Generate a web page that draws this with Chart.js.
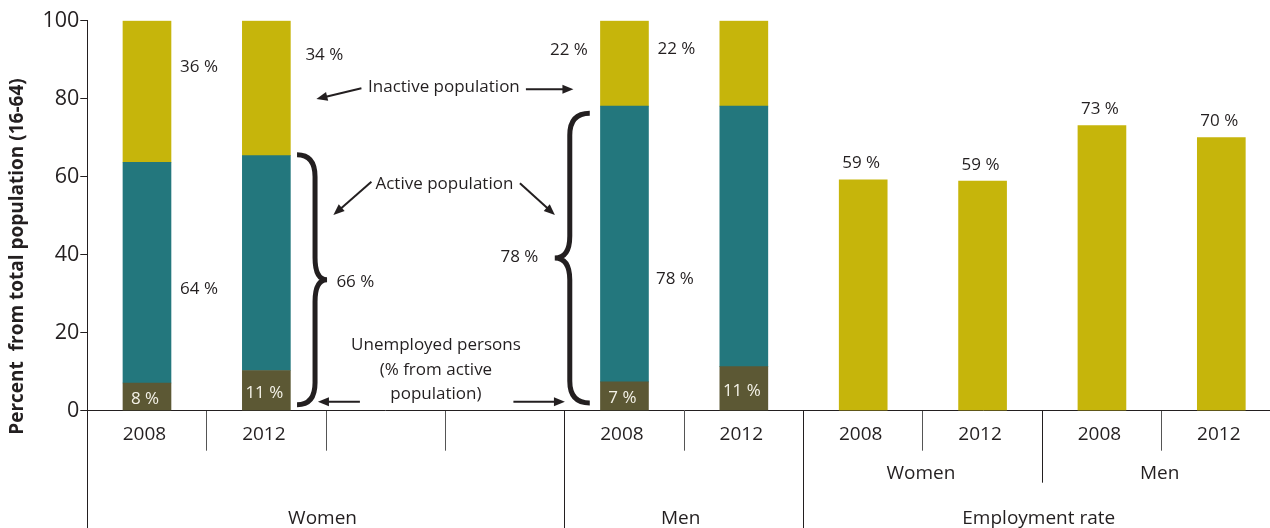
<!DOCTYPE html>
<html>
<head>
<meta charset="utf-8">
<script src="https://cdn.jsdelivr.net/npm/chart.js@4.4.1/dist/chart.umd.min.js"></script>
<style>
  html, body { margin: 0; padding: 0; background: #fff; overflow: hidden; }
  #wrap { width: 1281px; height: 528px; }
</style>
</head>
<body>
<div id="wrap"><canvas id="chart" width="1281" height="528"></canvas></div>
<script>
// Population by labour status (stacked) + employment rate, women / men, 2008 vs 2012

const yearLabels = ["2008", "2012", "", "", "2008", "2012", "2008", "2012", "2008", "2012"];
const unemployed = [7.1, 10.3, null, null, 7.4, 11.3, null, null, null, null];
const employed   = [56.6, 55.1, null, null, 70.7, 66.8, null, null, null, null];
const inactive   = [36.3, 34.6, null, null, 21.9, 21.9, null, null, null, null];
const employmentRate = [null, null, null, null, null, null, 59.2, 58.9, 73.1, 70.0];

const unemployedText = ["8 %", "11 %", "", "", "7 %", "11 %", "", "", "", ""];
const employmentText = ["", "", "", "", "", "", "59 %", "59 %", "73 %", "70 %"];
const sideText = ["36 %", "64 %", "34 %", "66 %", "22 %", "22 %", "78 %", "78 %"];
const calloutText = ["Inactive population", "Active population", "Unemployed persons", "(% from active", "population)"];
const subGroups = [{ label: "Women", from: 6, to: 8 }, { label: "Men", from: 8, to: 10 }];
const groups = [{ label: "Women", from: 0, to: 4 }, { label: "Men", from: 4, to: 6 }, { label: "Employment rate", from: 6, to: 10 }];
const yTitle = "Percent  from total population (16-64)";

const olive = "#c6b50b";
const teal = "#23777d";
const darkOlive = "#5c5834";
const ink = "#231f20";
const FONT = "'Open Sans', sans-serif";
const NOTE = 17;

const annotations = {
  id: "annotations",
  afterDraw(chart) {
    const { ctx, chartArea } = chart;
    const x = chart.scales.x, y = chart.scales.y;
    const px = i => x.getPixelForValue(i);
    const py = v => y.getPixelForValue(v);
    const edge = k => x.getPixelForValue(k - 0.5);
    const align = p => Math.round(p - 0.5) + 0.5;
    const bottom = chartArea.bottom;
    const H = chart.height;

    // text centred on its cap height
    function text(str, cx, cy, size, color, weight) {
      ctx.save();
      ctx.font = `${weight || "normal"} ${size}px ${FONT}`;
      ctx.fillStyle = color || ink;
      ctx.textAlign = "center";
      ctx.textBaseline = "alphabetic";
      ctx.fillText(str, cx, cy + size * 0.357);
      ctx.restore();
    }

    function arrow(x1, y1, x2, y2) {
      const a = Math.atan2(y2 - y1, x2 - x1), L = 11, W = 4.5;
      const c = Math.cos(a), s = Math.sin(a);
      ctx.save();
      ctx.strokeStyle = ink; ctx.fillStyle = ink; ctx.lineWidth = 2;
      ctx.beginPath();
      ctx.moveTo(x1, y1);
      ctx.lineTo(x2 - L * 0.8 * c, y2 - L * 0.8 * s);
      ctx.stroke();
      ctx.beginPath();
      ctx.moveTo(x2, y2);
      ctx.lineTo(x2 - L * c + W * s, y2 - L * s - W * c);
      ctx.lineTo(x2 - L * c - W * s, y2 - L * s + W * c);
      ctx.closePath();
      ctx.fill();
      ctx.restore();
    }

    function brace(xEnd, xSpine, xTip, yTop, yBot) {
      const yMid = (yTop + yBot) / 2, r = 22;
      ctx.save();
      ctx.strokeStyle = ink; ctx.lineWidth = 5;
      ctx.beginPath();
      ctx.moveTo(xEnd, yTop);
      ctx.quadraticCurveTo(xSpine, yTop, xSpine, yTop + r);
      ctx.lineTo(xSpine, yMid - r);
      ctx.quadraticCurveTo(xSpine, yMid, xTip, yMid);
      ctx.quadraticCurveTo(xSpine, yMid, xSpine, yMid + r);
      ctx.lineTo(xSpine, yBot - r);
      ctx.quadraticCurveTo(xSpine, yBot, xEnd, yBot);
      ctx.stroke();
      ctx.restore();
    }

    // y axis title
    ctx.save();
    ctx.translate(23, 256.5);
    ctx.rotate(-Math.PI / 2);
    ctx.font = `bold 19px ${FONT}`;
    ctx.fillStyle = ink;
    ctx.textAlign = "center";
    ctx.fillText(yTitle, 0, 0);
    ctx.restore();

    // category axis: year labels and group separators
    yearLabels.forEach((lab, i) => { if (lab) text(lab, px(i) - 2.5, bottom + 23, 19); });
    ctx.save();
    ctx.strokeStyle = ink; ctx.lineWidth = 1;
    [0, 4, 6].forEach(k => {
      ctx.beginPath(); ctx.moveTo(align(edge(k)), bottom); ctx.lineTo(align(edge(k)), H); ctx.stroke();
    });
    ctx.beginPath(); ctx.moveTo(align(edge(8)), bottom); ctx.lineTo(align(edge(8)), bottom + 72); ctx.stroke();
    ctx.restore();
    subGroups.forEach(g => text(g.label, (edge(g.from) + edge(g.to)) / 2 - 2, bottom + 61.5, 19));
    groups.forEach(g => text(g.label, (edge(g.from) + edge(g.to)) / 2 - 3.5, bottom + 107, 19));

    // labels inside / above bars
    unemployed.forEach((v, i) => { if (v != null) text(unemployedText[i], px(i) - 2, py(v / 2) + 1, NOTE, "#f4f2e8"); });
    employmentRate.forEach((v, i) => { if (v != null) text(employmentText[i], px(i) - 2, py(v) - 17.5, NOTE); });

    // side labels
    text(sideText[0], px(0) + 52, py(88.5), NOTE);
    text(sideText[1], px(0) + 52, py(31.5), NOTE);
    text(sideText[2], px(1) + 58, py(91.5), NOTE);
    text(sideText[3], px(1) + 89, py(33.3), NOTE);
    text(sideText[4], px(4) - 55.5, py(92.7), NOTE);
    text(sideText[5], px(4) + 52, py(92.9), NOTE);
    text(sideText[6], px(4) + 50.5, py(34), NOTE);
    text(sideText[7], px(4) - 105, py(39.7), NOTE);

    // callouts
    const mid = edge(3);
    text(calloutText[0], mid - 1.5, py(83.2), NOTE);
    arrow(mid - 84, py(82.7), mid - 129, py(79.9));
    arrow(mid + 80.5, py(82.4), mid + 128, py(82.4));

    text(calloutText[1], mid - 1, py(58.4), NOTE);
    arrow(mid - 74, py(58.7), mid - 112, py(50.2));
    arrow(mid + 74.5, py(58.3), mid + 109.5, py(50.2));

    text(calloutText[2], mid - 9.5, py(17.1), NOTE);
    text(calloutText[3], mid - 9.5, py(17.1) + 24.5, NOTE);
    text(calloutText[4], mid - 9.5, py(17.1) + 49, NOTE);
    arrow(mid - 85.5, py(2.3), mid - 127.5, py(2.3));
    arrow(mid + 68, py(2.3), mid + 119.5, py(2.3));

    // braces spanning the active population
    brace(edge(2) - 29, edge(2) - 11, edge(2) + 1, py(65.6), py(1.5));
    brace(edge(4) + 25, edge(4) + 5, edge(4) - 10, py(76.3), py(2.0));
  }
};

new Chart(document.getElementById("chart"), {
  type: "bar",
  data: {
    labels: yearLabels,
    datasets: [
      { label: "Unemployed", data: unemployed, backgroundColor: darkOlive },
      { label: "Employed", data: employed, backgroundColor: teal },
      { label: "Inactive", data: inactive, backgroundColor: olive },
      { label: "Employment rate", data: employmentRate, backgroundColor: olive }
    ]
  },
  options: {
    responsive: false,
    animation: false,
    layout: { padding: { top: 20.7, left: 0, right: 0, bottom: 0 } },
    datasets: { bar: { barThickness: 48, borderWidth: 0 } },
    plugins: { legend: { display: false }, tooltip: { enabled: false } },
    scales: {
      x: {
        stacked: true,
        offset: true,
        grid: { offset: true, drawOnChartArea: false, drawTicks: true, tickLength: 40, color: "#555", lineWidth: 1 },
        border: { display: true, color: ink, width: 1 },
        ticks: { display: false },
        afterFit: s => { s.height = 117.3; }
      },
      y: {
        stacked: true,
        min: 0,
        max: 100,
        ticks: { stepSize: 20, color: ink, font: { family: FONT, size: 21.5 }, padding: 1 },
        grid: { drawOnChartArea: false, drawTicks: true, tickLength: 7, color: ink },
        border: { display: true, color: ink, width: 1 },
        afterFit: s => { s.width = 87.3; }
      }
    }
  },
  plugins: [annotations]
});
</script>
</body>
</html>
